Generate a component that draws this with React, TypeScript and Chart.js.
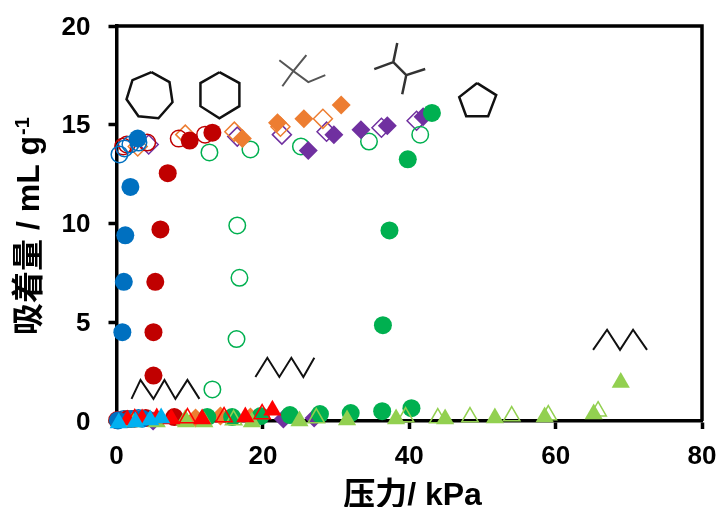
import React, { useEffect, useRef } from "react";
import { Chart, registerables } from "chart.js";

Chart.register(...registerables);

type P = [number, number];

const FONT = '"Liberation Sans", "Noto Sans CJK SC", Arial, sans-serif';
const xTitle = "压力/ kPa";
const yTitle = "吸着量 / mL g";
const yTitleSup = "-1";

// measured series (x: kPa, y: mL/g)
const lightBlueTri: P[] = [[0.3, -0.1], [2.6, -0.05], [4.6, 0.05], [6.1, 0.15]];
const blueFilled: P[] = [[0.2, 0.03], [0.8, 4.5], [1.0, 7.05], [1.2, 9.4], [1.9, 11.85], [2.9, 14.3], [2.0, 0.1], [3.5, 0.12]];
const blueOpen: P[] = [[0.4, 13.5], [1.1, 13.8], [1.9, 14.0], [3.0, 14.1], [1.0, 0.1], [3.0, 0.15]];
const redTri: P[] = [[1.5, 0.05], [3.5, 0.1], [5.5, 0.15], [7.5, 0.1], [11.7, 0.1], [17.6, 0.2], [21.3, 0.55]];
const redTriOpen: P[] = [[2.5, 0.1], [9.7, 0.15], [14.7, 0.2], [19.9, 0.35]];
const redFilled: P[] = [[5.05, 2.3], [5.05, 4.5], [5.3, 7.05], [6.0, 9.7], [7.0, 12.55], [10.0, 14.2], [13.1, 14.6], [0.1, 0.05], [7.9, 0.2], [1.5, 0.1], [4, 0.15]];
const redOpen: P[] = [[0.9, 13.9], [1.4, 14.0], [4.2, 14.1], [8.5, 14.3], [12.1, 14.5], [2.5, 0.12]];
const limeTri: P[] = [[2.2, -0.05], [5.5, -0.05], [9.5, -0.05], [12, -0.05], [18.5, -0.05], [25, 0.0], [31.5, 0.05], [38.2, 0.1], [44.9, 0.1], [51.7, 0.15], [58.5, 0.2], [65.2, 0.35], [68.9, 1.95]];
const limeTriOpen: P[] = [[9.4, 0.05], [16, 0.05], [27.3, 0.15], [39.5, 0.2], [43.9, 0.15], [48.3, 0.2], [54, 0.25], [59, 0.3], [65.8, 0.5]];
const greenFilled: P[] = [[12.4, 0.2], [15.8, 0.2], [19.7, 0.25], [23.7, 0.3], [27.8, 0.35], [32, 0.4], [36.3, 0.5], [40.3, 0.65], [36.4, 4.85], [37.3, 9.65], [39.8, 13.25], [43.1, 15.6]];
const greenOpen: P[] = [[13.1, 1.6], [16.4, 4.15], [16.8, 7.25], [16.5, 9.9], [12.7, 13.6], [18.3, 13.75], [25.2, 13.9], [34.5, 14.15], [41.5, 14.5]];
const orangeFilled: P[] = [[17.2, 14.3], [22.0, 15.1], [25.6, 15.3], [30.7, 16.0], [14.2, 0.25], [10.8, 0.15], [18.3, 0.2]];
const orangeOpen: P[] = [[2.9, 13.9], [9.4, 14.5], [16.1, 14.65], [22.4, 14.9], [28.2, 15.3]];
const purpleFilled: P[] = [[26.2, 13.7], [29.7, 14.5], [33.4, 14.75], [37.0, 14.95], [41.9, 15.4], [22.8, 0.1], [27.0, 0.15], [5, 0.0]];
const purpleOpen: P[] = [[4.4, 14.0], [16.5, 14.4], [22.6, 14.5], [28.7, 14.65], [36.2, 14.85], [41.0, 15.2]];

// molecule sketches in data units
const heptagon: P[] = [[4.78, 17.66], [7.24, 17.16], [7.65, 16.14], [5.73, 15.33], [3.0, 15.43], [1.37, 16.29], [2.18, 17.26], [4.78, 17.66]];
const hexagon: P[] = [[14.06, 17.66], [16.79, 17.11], [16.79, 15.94], [14.06, 15.33], [11.47, 15.94], [11.47, 17.11], [14.06, 17.66]];
const pentagon: P[] = [[49.28, 17.11], [51.88, 16.5], [50.78, 15.43], [47.78, 15.43], [46.83, 16.4], [49.28, 17.11]];
const branchedA: P[] = [[22.25, 18.27], [24.16, 17.72], [22.66, 16.95], [24.16, 17.72], [25.94, 18.53], [24.16, 17.72], [26.21, 17.16], [28.53, 17.51]];
const branchedB: P[] = [[35.22, 17.82], [37.82, 18.17], [38.36, 19.14], [37.82, 18.17], [39.59, 17.51], [42.18, 17.82], [39.59, 17.51], [39.04, 16.55]];
const zigzagA: P[] = [[2.05, 1.12], [3.28, 2.08], [5.05, 1.12], [6.55, 2.08], [8.05, 1.12], [9.69, 2.08], [11.33, 1.12]];
const zigzagB: P[] = [[18.98, 2.23], [20.61, 3.2], [22.25, 2.23], [23.89, 3.2], [25.53, 2.23], [27.03, 3.2]];
const zigzagC: P[] = [[65.12, 3.6], [67.03, 4.62], [68.8, 3.6], [70.58, 4.62], [72.49, 3.6]];

const toXY = (a: P[]) => a.map(([x, y]) => ({ x, y }));

const mark = (data: P[], pointStyle: string, color: string, filled: boolean, radius: number) => ({
  type: "scatter" as const,
  data: toXY(data),
  pointStyle,
  pointRadius: radius,
  pointBackgroundColor: filled ? color : "rgba(0,0,0,0)",
  pointBorderColor: color,
  pointBorderWidth: filled ? 0 : 1.5,
  showLine: false,
  clip: false as const,
});

const sketch = (data: P[], color: string, width: number) => ({
  type: "scatter" as const,
  data: toXY(data),
  showLine: true,
  borderColor: color,
  borderWidth: width,
  pointRadius: 0,
  tension: 0,
  fill: false,
});

const framePlugin = {
  id: "frame",
  beforeDatasetsDraw(chart: any) {
    const { ctx, chartArea: a } = chart;
    ctx.save();
    ctx.strokeStyle = "#000";
    ctx.lineWidth = 3.5;
    ctx.beginPath();
    ctx.moveTo(a.left, a.top);
    ctx.lineTo(a.right, a.top);
    ctx.lineTo(a.right, a.bottom);
    ctx.stroke();
    ctx.restore();
  },
  afterDraw(chart: any) {
    const { ctx } = chart;
    ctx.save();
    ctx.fillStyle = "#000";
    ctx.textBaseline = "alphabetic";
    ctx.font = `bold 32px ${FONT}`;
    ctx.textAlign = "center";
    ctx.fillText(xTitle, 412.5, 505);
    ctx.translate(38.5, 335);
    ctx.rotate(-Math.PI / 2);
    ctx.textAlign = "left";
    ctx.fillText(yTitle, 0, 0);
    const w = ctx.measureText(yTitle).width;
    ctx.font = `bold 20px ${FONT}`;
    ctx.fillText(yTitleSup, w + 1, -10);
    ctx.restore();
  },
};

export default function App() {
  const ref = useRef<HTMLCanvasElement | null>(null);
  useEffect(() => {
    document.body.style.margin = "0";
    const chart = new Chart(ref.current!, {
      type: "scatter",
      data: {
        datasets: [
          mark(lightBlueTri, "triangle", "#00B0F0", true, 10.5),
          mark(redTri, "triangle", "#FF0000", true, 10.5),
          mark(redTriOpen, "triangle", "#FF0000", false, 9.5),
          mark(limeTri, "triangle", "#92D050", true, 10.5),
          mark(limeTriOpen, "triangle", "#92D050", false, 9.5),
          mark(greenFilled, "circle", "#00B050", true, 9),
          mark(blueFilled, "circle", "#0070C0", true, 9),
          mark(redFilled, "circle", "#C00000", true, 9),
          mark(orangeFilled, "rectRot", "#ED7D31", true, 9.5),
          mark(purpleFilled, "rectRot", "#7030A0", true, 9.5),
          mark(greenOpen, "circle", "#00B050", false, 8.25),
          mark(blueOpen, "circle", "#0070C0", false, 8.25),
          mark(redOpen, "circle", "#C00000", false, 8.25),
          mark(orangeOpen, "rectRot", "#ED7D31", false, 9.5),
          mark(purpleOpen, "rectRot", "#7030A0", false, 9.5),
          sketch(heptagon, "#111", 2.5),
          sketch(hexagon, "#111", 2.5),
          sketch(pentagon, "#111", 2.5),
          sketch(branchedA, "#555", 2),
          sketch(branchedB, "#333", 2.5),
          sketch(zigzagA, "#111", 2),
          sketch(zigzagB, "#111", 2),
          sketch(zigzagC, "#111", 2),
        ] as any,
      },
      options: {
        responsive: false,
        animation: false,
        layout: { padding: { top: 26, right: 16, left: 0, bottom: 0 } },
        plugins: { legend: { display: false }, tooltip: { enabled: false } },
        scales: {
          x: {
            type: "linear",
            min: 0,
            max: 80,
            afterFit: (s: any) => { s.height = 86; s.paddingLeft = 0; s.paddingRight = 0; },
            border: { display: true, color: "#000", width: 3.5 },
            grid: { drawOnChartArea: false, drawTicks: true, tickLength: 8, tickWidth: 3.5, tickColor: "#000" },
            ticks: { stepSize: 20, color: "#000", padding: 12, maxRotation: 0, font: { family: FONT, size: 26, weight: "bold" } },
          },
          y: {
            type: "linear",
            min: 0,
            max: 20,
            afterFit: (s: any) => { s.width = 116.5; s.paddingTop = 0; s.paddingBottom = 0; },
            border: { display: true, color: "#000", width: 3.5 },
            grid: { drawOnChartArea: false, drawTicks: true, tickLength: 8, tickWidth: 3.5, tickColor: "#000" },
            ticks: { stepSize: 5, color: "#000", padding: 18, labelOffset: 1.5, font: { family: FONT, size: 26, weight: "bold" } },
          },
        },
      },
      plugins: [framePlugin],
    } as any);
    return () => chart.destroy();
  }, []);
  return (
    <div style={{ position: "absolute", left: 0, top: 0, width: 718, height: 507 }}>
      <canvas ref={ref} width={718} height={507} style={{ display: "block" }} />
    </div>
  );
}
